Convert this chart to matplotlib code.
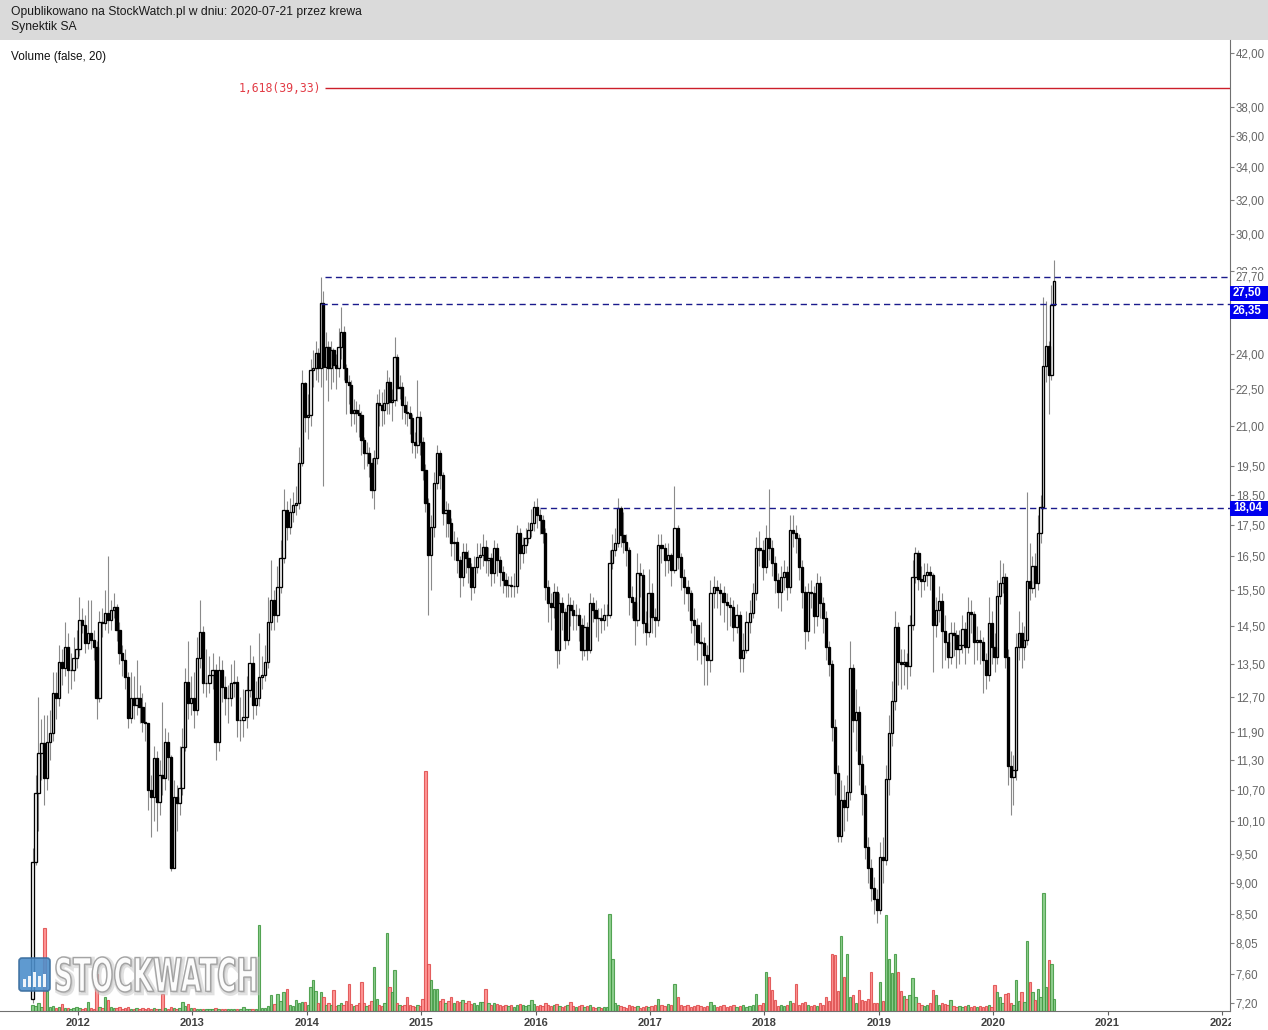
import numpy as np
import matplotlib
matplotlib.use("Agg")
import matplotlib.pyplot as plt
from matplotlib.patches import Rectangle, PathPatch, FancyBboxPatch
from matplotlib.textpath import TextPath
from matplotlib.font_manager import FontProperties
from matplotlib.transforms import Affine2D, IdentityTransform
from matplotlib.ticker import FixedLocator, FixedFormatter, NullLocator

plt.rcParams['font.family'] = ['Liberation Sans', 'DejaVu Sans']

# ---------------- data (Synektik SA, candles + volume) ----------------
first_open = 7.25

close_2011 = [9.36, 10.63, 11.45, 11.66, 10.93, 11.68, 11.88, 12.80, 12.69, 13.56, 13.41, 13.94, 13.36, 13.36, 13.66, 13.89]
high_2011 = [9.6, 11.0, 12.7, 12.2, 12.3, 12.3, 12.4, 13.3, 13.3, 14.0, 13.9, 14.6, 14.3, 13.8, 14.2, 14.4]
low_2011 = [7.2, 9.3, 9.9, 10.9, 10.4, 10.7, 11.3, 11.7, 12.2, 12.5, 13.0, 13.2, 12.8, 12.9, 13.1, 13.4]
vol_2011 = [6, 5, 8, 4, 83, 20, 4, 5, 3, 4, 7, 3, 3, 2, 3, 4]

close_2012 = [14.66, 14.52, 14.04, 14.31, 14.12, 13.94, 12.69, 14.60, 14.58, 14.85, 14.66, 14.93, 15.02, 14.39, 13.78, 13.61, 13.18, 12.22, 12.69, 12.51,
              12.69, 12.47, 12.13, 12.10, 10.69, 10.55, 11.34, 10.45, 10.99, 10.93, 11.68, 11.36, 9.25, 10.55, 10.43, 10.73, 11.58, 13.06, 12.56, 12.69]
high_2012 = [15.3, 15.0, 14.8, 15.2, 15.2, 14.4, 14.1, 14.9, 15.0, 15.5, 16.5, 15.2, 15.4, 15.1, 14.6, 14.0, 13.9, 13.3, 13.3, 13.2,
             13.6, 13.0, 12.8, 12.6, 12.0, 11.0, 11.6, 11.5, 11.3, 12.6, 12.0, 11.9, 11.4, 10.9, 10.8, 11.6, 12.0, 13.4, 14.1, 13.2]
low_2012 = [13.7, 14.3, 13.8, 13.9, 13.9, 13.6, 12.2, 12.6, 14.2, 14.4, 14.3, 14.4, 14.7, 14.1, 13.5, 13.2, 12.9, 12.0, 12.1, 12.2,
            12.3, 12.1, 11.9, 11.7, 10.3, 9.8, 10.1, 9.9, 10.2, 10.6, 10.7, 10.9, 9.2, 9.5, 9.9, 10.2, 10.6, 11.5, 12.2, 12.3]
vol_2012 = [3, 2, 3, 9, 3, 2, 37, 4, 3, 14, 11, 4, 3, 3, 4, 2, 3, 4, 2, 2, 3, 2, 3, 2, 3, 2, 3, 2, 2, 17, 3, 2, 4, 3, 2, 3, 9, 5, 7, 3]

close_2013 = [12.40, 13.66, 14.34, 13.04, 13.04, 13.23, 13.36, 11.68, 13.36, 12.94, 12.69, 12.69, 13.04, 13.06, 12.17, 12.17, 12.24, 12.87, 13.53,
              12.51, 12.69, 13.18, 13.23, 13.56, 14.60, 15.21, 14.79, 15.59, 16.45, 17.98, 17.42, 17.91, 18.15, 18.21, 19.62, 22.76, 21.37]
high_2013 = [13.3, 14.2, 15.2, 14.5, 13.9, 13.7, 13.8, 13.5, 13.7, 13.6, 13.2, 13.0, 13.5, 13.6, 13.2, 12.7, 12.9, 13.2, 14.0,
             13.7, 13.1, 14.3, 13.7, 14.0, 15.3, 16.4, 15.5, 16.2, 17.0, 18.7, 18.3, 18.4, 18.6, 18.8, 20.2, 23.3, 22.8]
low_2013 = [12.0, 12.3, 13.4, 12.8, 12.7, 12.8, 12.9, 11.3, 11.5, 12.6, 12.3, 12.1, 12.5, 12.7, 11.8, 11.7, 11.8, 12.0, 12.7,
            12.2, 12.3, 12.5, 12.9, 13.1, 13.4, 14.4, 14.4, 14.6, 15.4, 16.3, 17.0, 17.2, 17.6, 17.8, 18.0, 19.5, 20.8]
vol_2013 = [3, 2, 2, 2, 2, 2, 2, 3, 2, 2, 2, 2, 2, 2, 2, 2, 4, 2, 2, 2, 2, 86, 3, 3, 5, 16, 7, 17, 10, 19, 22, 6, 5, 11, 8, 9, 9]

close_2014 = [21.45, 23.31, 23.40, 24.05, 23.40, 26.40, 23.44, 24.33, 23.40, 24.19, 23.53, 23.40, 24.33, 25.02, 23.40, 22.80, 22.68, 21.53, 21.65,
              21.53, 21.45, 20.47, 19.99, 19.99, 19.62, 18.66, 19.80, 21.93, 21.85, 21.65, 21.93, 22.80, 21.97, 22.05, 23.88, 22.55, 22.60, 21.85,
              21.57, 21.53, 21.33, 20.40, 20.29, 21.37, 20.40]
high_2014 = [22.3, 23.8, 24.2, 24.6, 24.3, 27.7, 27.0, 25.0, 24.6, 24.6, 24.3, 24.0, 25.2, 26.2, 25.3, 23.6, 23.1, 22.9, 22.1,
             22.0, 21.9, 21.6, 20.6, 20.4, 20.2, 19.8, 20.1, 22.3, 22.5, 22.4, 22.5, 23.3, 23.0, 22.5, 24.8, 24.0, 23.1, 22.8,
             22.2, 22.0, 21.8, 21.5, 20.8, 22.9, 21.6]
low_2014 = [20.5, 21.0, 22.6, 22.9, 22.8, 22.6, 18.8, 22.9, 22.0, 22.5, 22.8, 22.5, 23.0, 23.8, 22.9, 21.5, 21.9, 21.0, 21.1,
            20.8, 20.6, 19.9, 19.4, 19.5, 19.1, 18.4, 18.0, 19.6, 21.0, 21.0, 21.1, 21.5, 21.5, 21.2, 21.8, 22.0, 22.1, 21.3,
            21.1, 21.0, 20.7, 20.0, 19.8, 20.0, 19.9]
vol_2014 = [6, 24, 31, 20, 8, 19, 14, 6, 8, 6, 21, 5, 6, 8, 6, 10, 27, 7, 5, 6, 8, 29, 8, 5, 6, 10, 44, 12, 6, 5,
            8, 78, 24, 19, 41, 8, 6, 5, 6, 14, 6, 5, 4, 6, 5]

close_2015 = [19.37, 18.21, 16.54, 17.42, 18.90, 19.99, 19.19, 17.88, 17.98, 17.55, 16.91, 16.94, 16.39, 15.88, 16.63, 16.45, 16.17, 15.59, 16.17,
              16.48, 16.54, 16.79, 16.39, 16.45, 16.00, 16.76, 16.39, 16.02, 15.79, 15.65, 15.65, 15.62, 15.62, 17.23, 16.60, 16.85, 17.07, 17.33,
              17.55, 18.08]
high_2015 = [20.6, 19.6, 18.4, 17.8, 19.3, 20.3, 20.1, 19.3, 18.3, 18.2, 17.7, 17.3, 17.1, 16.5, 16.9, 16.9, 16.7, 16.3, 16.5,
             16.9, 16.9, 17.2, 17.0, 16.8, 16.6, 17.0, 16.9, 16.5, 16.2, 16.0, 15.9, 15.9, 16.0, 17.5, 17.4, 17.1, 17.4, 17.6, 18.0, 18.3]
low_2015 = [19.0, 17.9, 14.8, 15.5, 17.1, 18.7, 18.7, 17.5, 17.1, 17.1, 16.5, 16.4, 16.0, 15.3, 15.6, 16.0, 15.7, 15.2, 15.4,
            16.0, 16.1, 16.2, 16.0, 15.9, 15.6, 15.7, 15.9, 15.6, 15.4, 15.3, 15.3, 15.3, 15.3, 15.4, 16.1, 16.3, 16.6, 16.9, 17.1, 17.3]
vol_2015 = [12, 240, 47, 31, 22, 22, 10, 12, 8, 10, 14, 8, 10, 9, 11, 8, 10, 7, 8, 6, 9, 9, 22, 8, 6, 8, 7, 6, 5, 6,
            5, 6, 4, 6, 7, 6, 5, 6, 11, 7]

close_2016 = [17.81, 17.65, 17.23, 15.59, 15.12, 15.02, 15.44, 13.86, 15.12, 14.88, 14.12, 15.07, 14.93, 14.79, 14.79, 14.52, 13.86, 14.47, 13.86,
              15.12, 14.93, 14.71, 14.71, 14.66, 14.79, 14.79, 16.30, 16.69, 16.91, 18.05, 17.17, 16.94, 16.69, 15.30, 15.16, 14.66, 16.00, 15.94,
              14.58, 14.34, 15.41]
high_2016 = [18.4, 18.0, 17.8, 17.4, 15.8, 15.4, 15.7, 15.6, 15.4, 15.3, 15.0, 15.4, 15.3, 15.2, 15.1, 15.0, 14.7, 14.8, 14.6,
             15.4, 15.3, 15.2, 15.0, 15.0, 15.1, 15.1, 16.7, 17.2, 17.4, 18.4, 18.1, 17.9, 17.2, 16.8, 15.6, 15.3, 16.6, 16.3, 16.1, 14.9, 16.1]
low_2016 = [17.4, 17.2, 16.9, 15.2, 14.6, 14.4, 14.7, 13.4, 13.5, 14.4, 13.9, 14.0, 14.5, 14.4, 14.4, 14.1, 13.6, 13.7, 13.6,
            13.8, 14.6, 14.2, 14.1, 14.3, 14.4, 14.5, 14.7, 16.1, 16.5, 16.8, 16.8, 16.6, 16.2, 14.8, 14.7, 14.0, 14.5, 15.3, 14.3, 14.0, 14.2]
vol_2016 = [5, 6, 5, 8, 6, 5, 6, 7, 5, 4, 5, 6, 9, 5, 4, 5, 6, 4, 5, 6, 4, 3, 4, 3, 4, 4, 97, 52, 8, 6,
            5, 4, 3, 6, 5, 4, 5, 3, 4, 5, 4]

close_2017 = [14.74, 14.66, 16.85, 16.76, 16.39, 16.54, 16.08, 17.39, 16.48, 15.88, 15.59, 15.41, 14.66, 14.52, 14.07, 14.04, 13.73, 13.61,
              15.41, 15.59, 15.50, 15.41, 15.16, 15.07, 15.02, 14.47, 14.79, 13.66, 13.86, 14.60, 14.85, 15.41, 16.76, 16.69, 16.17]
high_2017 = [15.7, 15.0, 17.2, 17.2, 16.9, 16.9, 16.6, 18.8, 17.5, 16.6, 16.1, 15.8, 15.5, 15.0, 14.7, 14.6, 14.2, 14.0,
             15.8, 15.9, 15.8, 15.7, 15.6, 15.4, 15.3, 15.2, 15.1, 14.9, 14.3, 14.9, 15.2, 15.7, 17.1, 17.3, 17.0]
low_2017 = [14.3, 14.2, 14.5, 16.3, 15.9, 16.0, 15.6, 16.0, 16.1, 15.5, 15.1, 14.9, 14.3, 14.0, 13.6, 13.5, 13.0, 13.0,
            13.3, 15.0, 15.0, 14.8, 14.6, 14.4, 14.5, 14.1, 14.3, 13.3, 13.3, 13.8, 14.3, 14.7, 15.2, 16.2, 15.8]
vol_2017 = [5, 6, 12, 6, 5, 7, 6, 27, 14, 6, 5, 6, 4, 5, 6, 5, 4, 5, 9, 6, 4, 5, 6, 4, 5, 6, 4, 5, 6, 4, 5, 6, 17, 6, 8]

close_2018 = [17.07, 16.76, 16.30, 15.79, 15.44, 15.88, 16.02, 15.59, 17.33, 17.23, 17.07, 16.17, 15.44, 14.36, 15.44, 15.41, 14.77, 15.70, 15.12,
              14.71, 13.94, 13.51, 12.02, 11.04, 9.82, 10.49, 10.36, 10.65, 13.41, 12.17, 12.36, 11.22, 10.61, 9.61, 9.25, 8.91, 8.73, 8.56]
high_2018 = [17.5, 18.7, 17.0, 16.5, 16.0, 16.2, 16.4, 16.2, 17.8, 17.8, 17.5, 17.2, 16.4, 15.6, 15.7, 15.8, 15.6, 16.0, 15.9,
             15.3, 14.9, 14.1, 13.6, 12.2, 11.2, 10.9, 10.8, 11.0, 14.1, 13.5, 12.9, 12.5, 11.4, 10.8, 9.8, 9.4, 9.1, 8.9]
low_2018 = [16.0, 16.4, 15.9, 15.4, 15.0, 14.9, 15.5, 15.2, 15.4, 16.8, 16.6, 15.8, 15.0, 13.9, 14.1, 15.0, 14.3, 14.5, 14.7,
            14.3, 13.6, 13.2, 11.7, 10.6, 9.7, 9.7, 9.9, 10.1, 10.5, 11.9, 11.5, 10.8, 10.2, 9.4, 9.0, 8.7, 8.5, 8.35]
vol_2018 = [39, 34, 21, 11, 5, 6, 5, 6, 10, 8, 27, 6, 8, 9, 6, 5, 6, 5, 8, 6, 14, 10, 57, 56, 20, 75, 34, 57, 14, 16,
            8, 21, 11, 10, 12, 39, 8, 8]

close_2019 = [9.44, 9.39, 10.91, 11.88, 12.61, 14.47, 13.56, 13.51, 13.56, 13.46, 14.52, 15.88, 16.60, 15.82, 15.76, 15.94, 16.02, 15.94, 14.52,
              14.93, 15.18, 14.36, 14.07, 13.68, 14.31, 14.26, 13.89, 13.99, 14.42, 13.94, 14.88, 14.82, 14.07, 14.12, 14.07, 13.61, 13.23, 14.58, 13.94]
high_2019 = [9.7, 9.8, 11.2, 12.3, 13.1, 14.9, 14.6, 13.9, 13.9, 13.8, 14.8, 16.4, 16.8, 16.7, 16.2, 16.3, 16.3, 16.2, 16.0,
             15.3, 15.6, 15.4, 14.8, 14.3, 14.6, 14.6, 14.4, 14.4, 14.8, 14.6, 15.3, 15.2, 14.9, 14.5, 14.4, 14.2, 13.8, 15.3, 14.9]
low_2019 = [8.5, 9.0, 9.3, 10.6, 11.6, 12.4, 13.0, 12.9, 13.0, 12.9, 13.2, 14.4, 15.7, 15.5, 15.3, 15.5, 15.6, 15.5, 13.3,
            14.2, 14.6, 13.4, 13.6, 13.4, 13.5, 13.7, 13.4, 13.5, 13.8, 13.5, 13.8, 14.3, 13.5, 13.6, 13.5, 12.8, 12.9, 13.1, 13.5]
vol_2019 = [29, 10, 96, 52, 38, 57, 39, 20, 15, 12, 16, 33, 14, 8, 6, 5, 6, 8, 21, 16, 6, 8, 7, 6, 11, 5, 4, 5, 4, 5,
            6, 4, 5, 4, 5, 4, 5, 6, 4]

close_2020 = [13.68, 15.33, 15.70, 15.88, 13.68, 11.18, 10.95, 11.10, 13.94, 14.31, 13.94, 14.12, 15.76, 15.56, 16.20, 15.70, 17.23, 18.08,
              23.49, 24.37, 23.10, 26.30, 27.50]
high_2020 = [14.3, 15.8, 16.4, 16.3, 16.0, 13.9, 11.5, 11.4, 14.3, 14.9, 14.6, 14.5, 18.6, 16.9, 16.5, 16.6, 17.8, 18.5,
             26.7, 26.5, 24.6, 27.3, 28.6]
low_2020 = [13.3, 13.5, 15.1, 15.4, 13.4, 10.8, 10.2, 10.4, 10.9, 13.6, 13.4, 13.6, 14.0, 15.2, 15.4, 15.3, 15.5, 16.9,
            18.0, 22.8, 21.5, 22.9, 26.7]
vol_2020 = [26, 19, 14, 8, 17, 18, 8, 6, 31, 10, 19, 9, 70, 29, 19, 11, 22, 14, 118, 24, 51, 47, 12]

# time covered by each group of candles (decimal years)
year_spans = [(2011.59, 2012.0), (2012.0, 2013.0), (2013.0, 2014.0), (2014.0, 2015.0), (2015.0, 2016.0),
              (2016.0, 2017.0), (2017.0, 2018.0), (2018.0, 2019.0), (2019.0, 2020.0), (2020.0, 2020.545)]
closes = [close_2011, close_2012, close_2013, close_2014, close_2015, close_2016, close_2017, close_2018, close_2019, close_2020]
highs = [high_2011, high_2012, high_2013, high_2014, high_2015, high_2016, high_2017, high_2018, high_2019, high_2020]
lows = [low_2011, low_2012, low_2013, low_2014, low_2015, low_2016, low_2017, low_2018, low_2019, low_2020]
vols = [vol_2011, vol_2012, vol_2013, vol_2014, vol_2015, vol_2016, vol_2017, vol_2018, vol_2019, vol_2020]

price_ticks = [7.2, 7.6, 8.05, 8.5, 9.0, 9.5, 10.1, 10.7, 11.3, 11.9, 12.7, 13.5, 14.5, 15.5, 16.5, 17.5, 18.5, 19.5,
               21.0, 22.5, 24.0, 26.0, 28.0, 30.0, 32.0, 34.0, 36.0, 38.0, 42.0]
hidden_ticks = [26.0]  # label covered by the 26,35 marker on the original chart
year_ticks = list(range(2012, 2023))

fib_level = 39.33
fib_start = 2014.16
levels = [27.70, 26.35, 18.04]
level_starts = [2014.16, 2014.12, 2016.04]
last_close = 27.50

# ---------------- build series ----------------
dates, c, h, l, v = [], [], [], [], []
for (start, end), cl, hi, lo, vo in zip(year_spans, closes, highs, lows, vols):
    n = min(len(cl), len(hi), len(lo), len(vo))
    step = (end - start) / n
    for i in range(n):
        dates.append(start + (i + 0.5) * step)
        c.append(cl[i])
        h.append(hi[i])
        l.append(lo[i])
        v.append(vo[i])
dates = np.array(dates)
c = np.array(c)
h = np.array(h)
l = np.array(l)
v = np.array(v, dtype=float)
o = np.r_[first_open, c[:-1]]
up = c >= o
body_lo = np.minimum(o, c)
body_hi = np.maximum(o, c)

# ---------------- figure ----------------
W, H = 1268, 1030
fig = plt.figure(figsize=(W / 100, H / 100), dpi=100)
fig.patch.set_facecolor('white')

right_px, top_px, bottom_px = 1229.5, 40, 1011
ax = fig.add_axes([0, 1 - bottom_px / H, right_px / W, (bottom_px - top_px) / H])
axv = ax.twinx()
ax.set_zorder(2)
axv.set_zorder(1)
ax.patch.set_visible(False)

# volume
vol_face = np.where(up, '#7cc77c', '#ff8484')
vol_edge = np.where(up, '#3f983f', '#de4a4a')
axv.bar(dates, v, width=0.021, color=vol_face, edgecolor=vol_edge, linewidth=0.8, alpha=0.85)
axv.set_ylim(0, v.max() * 4.05)
axv.set_yticks([])
for s in axv.spines.values():
    s.set_visible(False)

# candles
ax.set_yscale('log')
ax.vlines(dates, l, h, color='#8a8a8a', lw=0.8, zorder=2)
bw = 0.02
ax.bar(dates[up], body_hi[up] - body_lo[up], bottom=body_lo[up], width=bw,
       facecolor='white', edgecolor='black', linewidth=0.95, zorder=3)
ax.bar(dates[~up], body_hi[~up] - body_lo[~up], bottom=body_lo[~up], width=bw,
       facecolor='black', edgecolor='black', linewidth=0.95, zorder=3)

xmin, xmax = 2011.318, 2022.066
ax.set_xlim(xmin, xmax)
ax.set_ylim(7.093, 43.03)
axv.set_xlim(xmin, xmax)

# levels
ax.hlines(fib_level, fib_start, xmax, colors='#cc1f2a', lw=1.0, zorder=4)
ax.annotate('1,618(39,33)', xy=(fib_start, fib_level), xytext=(-4, 0), textcoords='offset pixels',
            ha='right', va='center', fontsize=8.3, color='#e23c46', family='DejaVu Sans Mono')
for lvl, st in zip(levels, level_starts):
    ax.hlines(lvl, st, xmax, colors='#1a1a8c', lw=1.0, linestyles=(0, (4.5, 3)), zorder=4)

# axes styling
ax.yaxis.tick_right()
ax.yaxis.set_major_locator(FixedLocator(price_ticks))
ax.yaxis.set_major_formatter(FixedFormatter(
    ['' if t in hidden_ticks else f"{t:.2f}".replace('.', ',') for t in price_ticks]))
ax.yaxis.set_minor_locator(NullLocator())
ax.set_xticks(year_ticks)
ax.set_xticklabels([str(y) for y in year_ticks])
ax.xaxis.set_minor_locator(NullLocator())
for lbl in ax.get_xticklabels():
    lbl.set_fontweight('bold')
ax.tick_params(axis='y', which='both', left=False, right=True, direction='out', length=3, width=0.8,
               color='#808080', labelsize=8.3, labelcolor='#666666', pad=1.5)
ax.tick_params(axis='x', direction='out', length=3, width=0.8, color='#606060',
               labelsize=8, labelcolor='#404040', pad=2)
ax.spines['left'].set_visible(False)
ax.spines['top'].set_visible(False)
ax.spines['right'].set_color('#707070')
ax.spines['bottom'].set_color('#707070')

# header
fig.add_artist(Rectangle((0, 1 - top_px / H), 1, top_px / H, transform=fig.transFigure,
                         facecolor='#dadada', edgecolor='none', zorder=1))
fig.text(11 / W, 1 - 12 / H, 'Opublikowano na StockWatch.pl w dniu: 2020-07-21 przez krewa',
         fontsize=8.7, color='#1a1a1a', va='center', ha='left')
fig.text(11 / W, 1 - 27 / H, 'Synektik SA', fontsize=8.7, color='#1a1a1a', va='center', ha='left')
fig.text(11 / W, 1 - 57 / H, 'Volume (false, 20)', fontsize=8.5, color='#111111', va='center', ha='left')

# hide the cut part of the last year label
fig.add_artist(Rectangle((right_px + 1, 0), W - right_px, H - bottom_px - 1, transform=IdentityTransform(),
                         facecolor='white', edgecolor='none', zorder=8))


# right-side price labels
def value_px(val):
    return ax.transData.transform((xmin, val))[1]


y_lbl = value_px(levels[0])
fig.text(1235.5 / W, y_lbl / H, '27,70', fontsize=8.3, color='#666666', va='center', ha='left',
         bbox=dict(facecolor='white', edgecolor='none', pad=0.6), zorder=6)

box_labels = [(last_close, 12), (levels[1], 7), (levels[2], 0)]
for val, shift in box_labels:
    yc = value_px(val) - shift
    fig.add_artist(Rectangle((right_px, yc - 7.5), W - right_px, 15, transform=IdentityTransform(),
                             facecolor='#0000ee', edgecolor='none', zorder=7))
    fig.text(1233 / W, yc / H, f"{val:.2f}".replace('.', ','), fontsize=8.3, fontweight='bold',
             color='white', va='center', ha='left', zorder=9)

# watermark logo
icon = FancyBboxPatch((19, H - 991), 31, 33, boxstyle='round,pad=0,rounding_size=3',
                      transform=IdentityTransform(), facecolor='#4d8fcb', edgecolor='#3b6e9f',
                      linewidth=1.2, alpha=0.9, zorder=10)
fig.add_artist(icon)
for bx, bh in zip([23, 28, 33, 38, 43], [8, 11, 15, 11, 13]):
    fig.add_artist(Rectangle((bx, H - 987), 3, bh, transform=IdentityTransform(),
                             facecolor='white', edgecolor='none', alpha=0.9, zorder=11))

tp = TextPath((0, 0), 'STOCKWATCH', size=100, prop=FontProperties(family='DejaVu Sans', weight='bold'))
ext = tp.get_extents()
tr = Affine2D().translate(-ext.x0, -ext.y0).scale(200 / ext.width, 35 / ext.height).translate(56, H - 992)
fig.add_artist(PathPatch(tp, transform=tr + Affine2D().translate(1.5, -1.5), facecolor='#a8a8a8',
                         edgecolor='#c4c4c4', linewidth=3.5, alpha=0.5, zorder=10))
fig.add_artist(PathPatch(tp, transform=tr, facecolor='white', edgecolor='#a0a0a0',
                         linewidth=1.0, alpha=0.95, zorder=11))

fig.savefig('out.png', dpi=100)
